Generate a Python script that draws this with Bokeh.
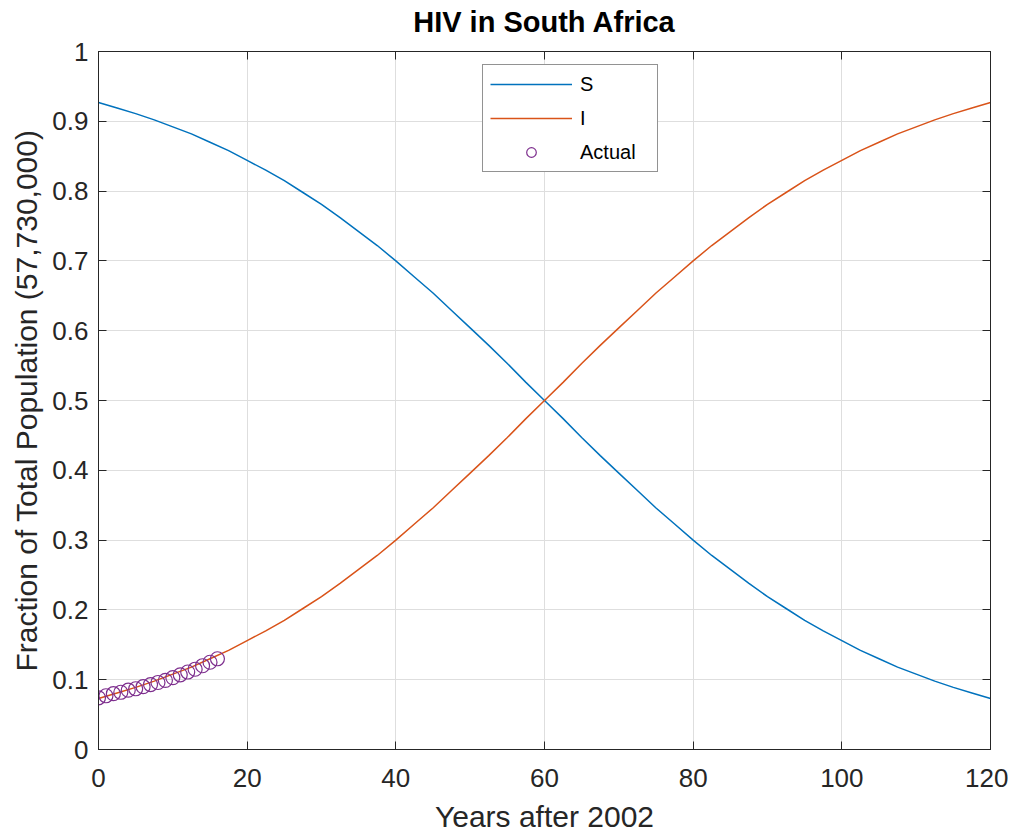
from bokeh.plotting import figure
from bokeh.embed import file_html
from bokeh.resources import INLINE
from bokeh.models import (FixedTicker, LinearAxis, Legend, LegendItem, Range1d,
                          CustomLabelingPolicy)

# ---- data ----
t_model = [0, 2.5, 5, 7.5, 10, 12.5, 15, 17.5, 20, 22.5, 25, 27.5, 30, 32.5,
           35, 37.5, 40, 42.5, 45, 47.5, 50, 52.5, 55, 57.5, 60, 62.5, 65,
           67.5, 70, 72.5, 75, 77.5, 80, 82.5, 85, 87.5, 90, 92.5, 95, 97.5,
           100, 102.5, 105, 107.5, 110, 112.5, 115, 117.5, 120]
S_vals = [0.927, 0.919, 0.911, 0.902, 0.892, 0.882, 0.870, 0.858, 0.844,
          0.830, 0.815, 0.798, 0.781, 0.762, 0.742, 0.722, 0.700, 0.677,
          0.654, 0.629, 0.604, 0.579, 0.553, 0.526, 0.500, 0.474, 0.447,
          0.421, 0.396, 0.371, 0.346, 0.323, 0.300, 0.278, 0.258, 0.238,
          0.219, 0.202, 0.185, 0.170, 0.156, 0.142, 0.130, 0.118, 0.108,
          0.098, 0.089, 0.081, 0.073]
I_vals = [0.073, 0.081, 0.089, 0.098, 0.108, 0.118, 0.130, 0.142, 0.156,
          0.170, 0.185, 0.202, 0.219, 0.238, 0.258, 0.278, 0.300, 0.323,
          0.346, 0.371, 0.396, 0.421, 0.447, 0.474, 0.500, 0.526, 0.553,
          0.579, 0.604, 0.629, 0.654, 0.677, 0.700, 0.722, 0.742, 0.762,
          0.781, 0.798, 0.815, 0.830, 0.844, 0.858, 0.870, 0.882, 0.892,
          0.902, 0.911, 0.919, 0.927]
t_actual = [0, 1, 2, 3, 4, 5, 6, 7, 8, 9, 10, 11, 12, 13, 14, 15, 16]
actual_vals = [0.074, 0.077, 0.080, 0.082, 0.085, 0.087, 0.090, 0.093, 0.096,
               0.099, 0.103, 0.107, 0.111, 0.115, 0.120, 0.125, 0.130]
x_ticks = [0, 20, 40, 60, 80, 100, 120]
y_ticks = [0, 0.1, 0.2, 0.3, 0.4, 0.5, 0.6, 0.7, 0.8, 0.9, 1]
y_labels = {0: "0", 0.1: "0.1", 0.2: "0.2", 0.3: "0.3", 0.4: "0.4", 0.5: "0.5",
            0.6: "0.6", 0.7: "0.7", 0.8: "0.8", 0.9: "0.9", 1: "1"}

FONT = "Liberation Sans"
TXT = "#262626"

p = figure(width=1008, height=835, output_backend="svg", toolbar_location=None,
           x_range=Range1d(0, 120), y_range=Range1d(0, 1),
           min_border_left=98, min_border_right=16, min_border_top=44,
           min_border_bottom=86, x_axis_label="Years after 2002",
           y_axis_label="Fraction of Total Population (57,730,000)")
p.title.text = "HIV in South Africa"
p.title.align = "center"
p.title.text_font = FONT
p.title.text_font_size = "29px"
p.title.text_font_style = "bold"
p.title.text_color = "#000000"
p.title.offset = 0
p.title.standoff = 6

p.outline_line_color = "#262626"
p.outline_line_width = 1
p.background_fill_color = "white"

for ax, ticks in ((p.xaxis[0], x_ticks), (p.yaxis[0], y_ticks)):
    ax.ticker = FixedTicker(ticks=ticks)
    ax.minor_tick_line_color = None
    ax.major_tick_in = 8
    ax.major_tick_out = 0
    ax.major_tick_line_color = "#262626"
    ax.axis_line_color = "#262626"
    ax.major_label_text_font = FONT
    ax.major_label_text_font_size = "26px"
    ax.major_label_text_color = TXT
    ax.axis_label_text_font = FONT
    ax.axis_label_text_font_size = "30px"
    ax.axis_label_text_font_style = "normal"
    ax.axis_label_text_color = TXT

p.yaxis[0].major_label_overrides = y_labels
p.xaxis[0].major_label_standoff = 19
p.xaxis[0].major_label_text_line_height = 0.8
p.xaxis[0].axis_label_text_line_height = 0.8
p.xaxis[0].axis_label_standoff = 10
p.yaxis[0].major_label_standoff = 10
p.yaxis[0].axis_label_standoff = 6

# mirrored axes (box with inward ticks, no labels)
no_labels = "for (const i of Array.from(indices)) { indices.unset(i) } return indices"
top = LinearAxis(ticker=FixedTicker(ticks=x_ticks),
                 major_label_policy=CustomLabelingPolicy(code=no_labels),
                 major_tick_in=8, major_tick_out=0, minor_tick_line_color=None,
                 axis_line_color="#262626", major_tick_line_color="#262626",
                 major_label_standoff=0)
right = LinearAxis(ticker=FixedTicker(ticks=y_ticks),
                   major_label_policy=CustomLabelingPolicy(code=no_labels),
                   major_tick_in=8, major_tick_out=0, minor_tick_line_color=None,
                   axis_line_color="#262626", major_tick_line_color="#262626",
                   major_label_standoff=0)
p.add_layout(top, "above")
p.add_layout(right, "right")

p.xgrid.ticker = FixedTicker(ticks=x_ticks)
p.ygrid.ticker = FixedTicker(ticks=y_ticks)
p.grid.grid_line_color = "#dedede"
p.grid.grid_line_width = 1

rS = p.line(t_model, S_vals, line_color="#0072BD", line_width=1.5)
rI = p.line(t_model, I_vals, line_color="#D95319", line_width=1.5)
rA = p.scatter(t_actual, actual_vals, marker="circle", size=14,
               fill_color=None, line_color="#7E2F8E", line_width=1.2)

legend = Legend(items=[LegendItem(label="S", renderers=[rS]),
                       LegendItem(label="I", renderers=[rI]),
                       LegendItem(label="Actual", renderers=[rA])],
                location=(384, 577), orientation="vertical",
                glyph_width=82, glyph_height=24, label_height=24,
                label_width=70, label_standoff=8, spacing=10, padding=7,
                margin=0,
                label_text_font=FONT, label_text_font_size="20px",
                label_text_color="#000000",
                border_line_color="#262626", border_line_width=1,
                background_fill_color="white", background_fill_alpha=1)
p.add_layout(legend, "center")

open("out.html", "w").write(file_html(p, INLINE))
